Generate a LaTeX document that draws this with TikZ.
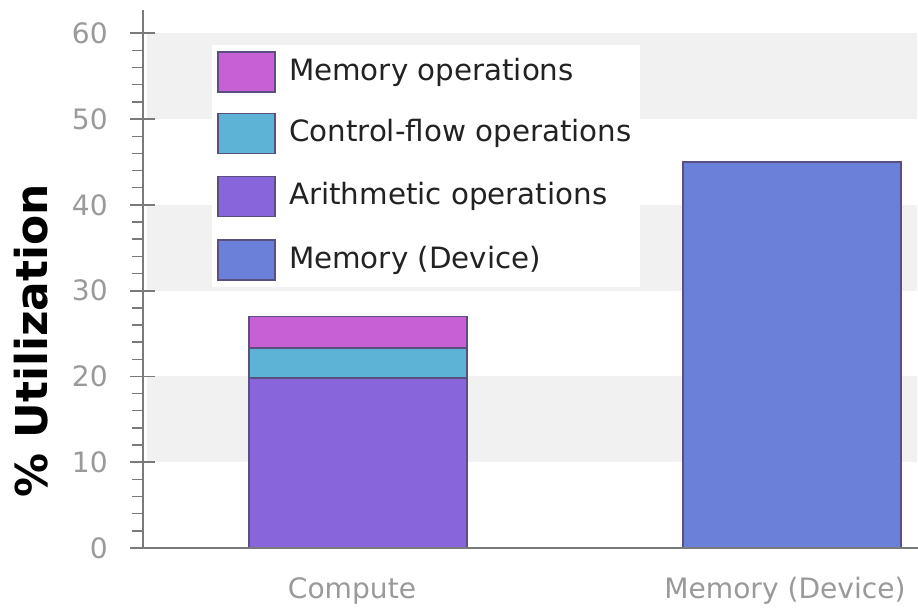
\documentclass[tikz,border=0pt]{standalone}
\usepackage{fontspec}
\setmainfont{DejaVu Sans}
\usetikzlibrary{positioning}

\definecolor{memops}{HTML}{C660D4}
\definecolor{ctrlops}{HTML}{5CB3D6}
\definecolor{arithops}{HTML}{8865DA}
\definecolor{memdev}{HTML}{6B80D8}
\definecolor{barline}{HTML}{5B4E80}
\definecolor{axisgray}{HTML}{7A7A7A}
\definecolor{labelgray}{HTML}{9A9A9A}
\definecolor{bandgray}{HTML}{F1F1F1}
\definecolor{legendink}{HTML}{222222}

\tikzset{
	bar/.style={draw=barline, line width=0.8pt},
	swatch/.style={draw=barline, line width=0.8pt, minimum width=1.14cm, minimum height=0.8cm, inner sep=0pt},
	legendtext/.style={anchor=west, inner sep=0pt, text=legendink, font=\fontsize{16.7}{20}\selectfont},
	ticklabel/.style={anchor=east, inner sep=0pt, text=labelgray, font=\fontsize{16}{19}\selectfont},
	catlabel/.style={inner sep=0pt, text=labelgray, font=\fontsize{16}{19}\selectfont},
	axisline/.style={draw=axisgray, line width=1pt}
}

\begin{document}
\begin{tikzpicture}[x=0.02cm, y=0.02cm]
		\useasboundingbox (0,0) rectangle (918,611);
		\fill[white] (0,0) rectangle (918,611);
		\begin{scope}[shift={(0,63)}, y=0.1716cm]
			% background bands
			\foreach \lo in {10,30,50}
				\fill[bandgray] (147,\lo) rectangle (917,\lo+10);
		\end{scope}
		% legend
		\fill[white] (212,324) rectangle (640,566);
		\node[swatch, fill=memops] (s1) at (246.5,539) {};
		\node[swatch, fill=ctrlops, below=0.4cm of s1] (s2) {};
		\node[swatch, fill=arithops, below=0.44cm of s2] (s3) {};
		\node[swatch, fill=memdev, below=0.44cm of s3] (s4) {};
		\node[legendtext, right=0.26cm of s1] (l1) {Memory operations};
		\node[legendtext, right=0.26cm of s2] (l2) {Control-flow operations};
		\node[legendtext, right=0.26cm of s3] (l3) {Arithmetic operations};
		\node[legendtext, right=0.26cm of s4] (l4) {Memory (Device)};
		\begin{scope}[shift={(0,63)}, y=0.1716cm]
			% bars
			\draw[bar, fill=arithops] (249,0) rectangle (467,19.8);
			\draw[bar, fill=ctrlops] (249,19.8) rectangle (467,23.3);
			\draw[bar, fill=memops] (249,23.3) rectangle (467,27);
			\draw[bar, fill=memdev] (683,0) rectangle (901,45);
			% axes
			\draw[axisline] (130,0) -- (918,0);
			\draw[axisline] (143,0) -- (143,62.7);
			\foreach \v in {2,4,...,58}
				\draw[axisline, line width=0.8pt] (132,\v) -- (143,\v);
			\foreach \v in {0,10,...,60} {
				\draw[axisline] (130,\v) -- (155,\v);
				\node[ticklabel] (t\v) at (108,\v) {\v};
			}
		\end{scope}
		\node[catlabel] (compute) at (352,20) {Compute};
		\node[catlabel] (memory) at (785,20) {Memory (Device)};
		\node[rotate=90, font=\fontsize{25}{29}\selectfont\bfseries] (ylabel) at (31,270) {\% Utilization};
	\end{tikzpicture}
\end{document}
